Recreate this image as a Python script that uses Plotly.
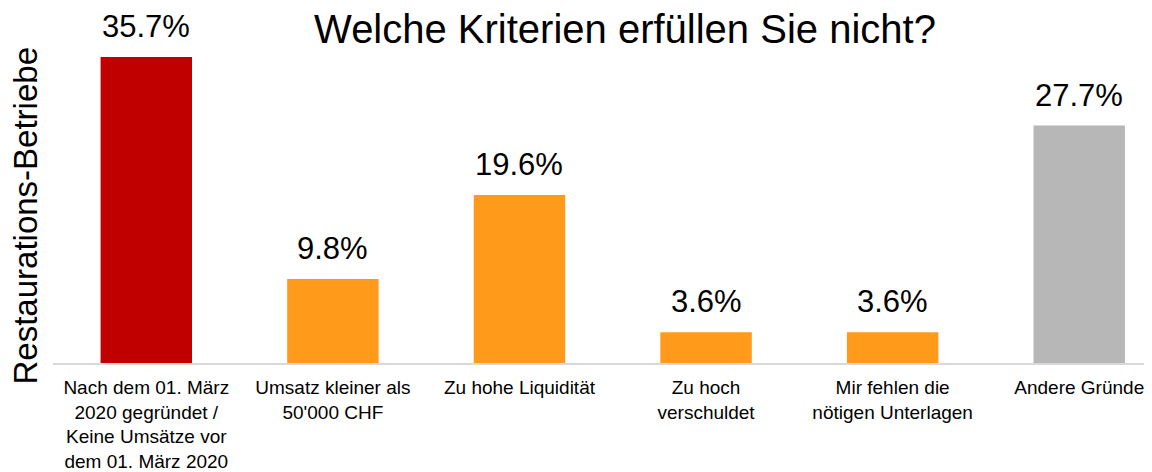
import plotly.graph_objects as go

categories = [
    "Nach dem 01. März<br>2020 gegründet /<br>Keine Umsätze vor<br>dem 01. März 2020",
    "Umsatz kleiner als<br>50'000 CHF",
    "Zu hohe Liquidität",
    "Zu hoch<br>verschuldet",
    "Mir fehlen die<br>nötigen Unterlagen",
    "Andere Gründe",
]
values = [35.7, 9.8, 19.6, 3.6, 3.6, 27.7]
labels = ["35.7%", "9.8%", "19.6%", "3.6%", "3.6%", "27.7%"]
colors = ["#C00000", "#FF9A1A", "#FF9A1A", "#FF9A1A", "#FF9A1A", "#B7B7B7"]

FONT = "Liberation Sans, Arial, sans-serif"
xpos = list(range(len(categories)))

# page body has an 8px margin: compensate so the figure lines up with the reference
OFF = 8
W, H = 1152, 472

fig = go.Figure(go.Bar(
    x=xpos,
    y=values,
    marker=dict(color=colors, line=dict(width=0)),
    width=0.49,
    cliponaxis=False,
))

annotations = [dict(
    x=x, y=v, text=t, xref="x", yref="y", showarrow=False,
    xanchor="center", yanchor="bottom", yshift=11,
    font=dict(size=31, family=FONT, color="#000000"),
) for x, v, t in zip(xpos, values, labels)]

annotations.append(dict(
    text="Restaurations-Betriebe", xref="paper", yref="paper",
    x=0, xshift=-27, y=0.482, textangle=-90, showarrow=False,
    xanchor="center", yanchor="middle",
    font=dict(size=33, family=FONT, color="#000000"),
))

fig.update_layout(
    width=W, height=H,
    margin=dict(l=53 - OFF, r=OFF, t=57 - OFF, b=H - (363 - OFF), autoexpand=False),
    paper_bgcolor="white", plot_bgcolor="white",
    showlegend=False,
    font=dict(family=FONT, color="#000000"),
    title=dict(text="Welche Kriterien erfüllen Sie nicht?", x=(625 - OFF) / W, xanchor="center",
               y=1 - (29 - OFF) / H, yanchor="middle", yref="container",
               font=dict(size=40, family=FONT, color="#000000")),
    xaxis=dict(
        tickmode="array", tickvals=xpos, ticktext=categories,
        range=[-0.5, 5.39], showgrid=False, zeroline=False,
        showline=True, linecolor="#D9D9D9", linewidth=2,
        ticks="", tickfont=dict(size=19, family=FONT, color="#000000"),
        tickangle=0, automargin=False, ticklabelstandoff=6,
    ),
    yaxis=dict(range=[0, 35.7], visible=False, automargin=False),
    annotations=annotations,
)

fig.write_html("out.html")
